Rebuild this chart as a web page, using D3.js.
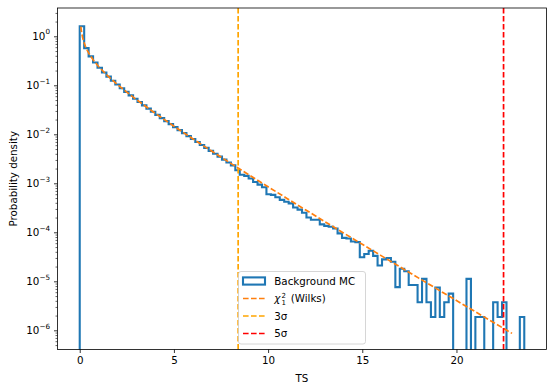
<!DOCTYPE html>
<html>
<head>
<meta charset="utf-8">
<script src="https://cdn.jsdelivr.net/npm/d3@7"></script>
<style>
  body { margin: 0; background: #fff; }
  text { font-family: "DejaVu Sans", sans-serif; fill: #000; }
</style>
</head>
<body>
<svg id="chart" width="555" height="392"></svg>
<script>
// histogram of the background MC test statistic, 100 bins from 0 to tsMax
const tsMax = 23.6;
const nBins = 100;
const bgDensity = [
  1.60, 0.573, 0.389, 0.292, 0.228, 0.183, 0.150, 0.124, 0.1035, 0.0868,
  0.0735, 0.0622, 0.0530, 0.0455, 0.0389, 0.0335, 0.0288, 0.0249, 0.0214, 0.0186,
  0.0161, 0.0140, 0.01215, 0.01055, 0.0092, 0.0080, 0.00695, 0.00605, 0.00528, 0.00460,
  0.00402, 0.00350, 0.00305, 0.00266, 0.00232, 0.00185, 0.00150, 0.00142, 0.00125, 0.00106,
  0.00094, 0.00083, 0.00060, 0.00058, 0.00052, 0.00046, 0.00042, 0.00039, 0.00032, 0.00029,
  0.000250, 0.000200, 0.000180, 0.00018, 0.000145, 0.000135, 0.00013, 0.00012, 0.000095, 0.000077,
  0.000075, 0.000065, 0.000063, 0.000031, 0.000036, 0.000042, 0.000033, 0.000021, 0.000028, 0.00003,
  0.000025, 0.0000076, 0.000018, 0.000016, 0.0000084, 0.0000084, 0.00000374, 0.0000112, 0.00000374, 0.00000187,
  0.00000748, 0.00000187, 0.00000374, 0.00000561, 0, 0, 0, 0.0000112, 0, 0.00000187,
  0.00000187, 0, 0, 0.00000374, 0.00000187, 0.00000374, 0, 0, 0, 0.00000187
];

// chi2 (1 dof) curve
const chiX = [0.06, 0.08, 0.1, 0.15, 0.2, 0.3, 0.4, 0.5, 0.7, 1, 1.5, 2, 2.5, 3, 4, 5, 6, 7, 8, 9, 10,
  11, 12, 13, 14, 15, 16, 17, 18, 19, 20, 21, 22, 22.95];
const chiY = [1.580, 1.355, 1.200, 0.9556, 0.8071, 0.6269, 0.5165, 0.4394, 0.3360, 0.2420, 0.1539,
  0.1038, 0.0723, 0.05139, 0.02700, 0.01465, 0.008109, 0.004553, 0.002584, 0.001477, 0.000850,
  0.0004916, 0.0002855, 0.0001663, 0.00009723, 0.00005697, 0.00003346, 0.00001969, 0.00001161,
  0.000006851, 0.000004050, 0.000002397, 0.000001421, 0.000000866];

const sigmaLabels = ["3σ", "5σ"];
const sigmaTS = [8.41, 22.5];

const xTicks = [0, 5, 10, 15, 20];
const yTickExp = [-6, -5, -4, -3, -2, -1, 0];

const svg = d3.select("#chart");
const axLeft = 57.5, axRight = 546.5, axTop = 8, axBottom = 349.5;
const fontSize = "10.3px";
const dash = "5.6,2.4";

const x = d3.scaleLinear().domain([-1.18, 24.78]).range([axLeft, axRight]);
const y = d3.scaleLog().domain([4.06e-7, 3.78]).range([axBottom, axTop]);

svg.append("defs").append("clipPath").attr("id", "plotclip")
  .append("rect").attr("x", axLeft).attr("y", axTop)
  .attr("width", axRight - axLeft).attr("height", axBottom - axTop);

const plot = svg.append("g").attr("clip-path", "url(#plotclip)");

// step outline of the histogram; empty bins fall below the axes
const edges = d3.range(nBins + 1).map(i => i * tsMax / nBins);
const yv = v => v > 0 ? y(v) : axBottom + 10;
const histPts = [[x(0), axBottom + 10]];
bgDensity.forEach((v, i) => {
  histPts.push([x(edges[i]), yv(v)]);
  histPts.push([x(edges[i + 1]), yv(v)]);
});
histPts.push([x(tsMax), axBottom + 10]);

plot.append("path")
    .attr("d", d3.line()(histPts))
    .attr("fill", "none")
    .attr("stroke", "#1f77b4")
    .attr("stroke-width", 2.1)
    .attr("stroke-linejoin", "miter");

plot.append("path")
    .datum(chiX.map((t, i) => [t, chiY[i]]))
    .attr("d", d3.line().x(d => x(d[0])).y(d => y(d[1])))
    .attr("fill", "none")
    .attr("stroke", "#ff7f0e")
    .attr("stroke-width", 1.7)
    .attr("stroke-dasharray", dash);

const sigmaColors = ["orange", "red"];
plot.selectAll(".sigma")
  .data(sigmaTS)
  .enter().append("line")
    .attr("class", "sigma")
    .attr("x1", d => x(d)).attr("x2", d => x(d))
    .attr("y1", axTop).attr("y2", axBottom)
    .attr("stroke", (d, i) => sigmaColors[i])
    .attr("stroke-width", 1.7)
    .attr("stroke-dasharray", dash);

// x axis
const xAxis = svg.append("g")
    .attr("transform", `translate(0,${axBottom})`)
    .call(d3.axisBottom(x).tickValues(xTicks).tickSize(3.5).tickPadding(3.2).tickFormat(d3.format("d")));
xAxis.select(".domain").remove();
xAxis.selectAll("line").attr("stroke", "#000").attr("stroke-width", 0.8);
xAxis.selectAll("text").attr("font-size", fontSize).attr("font-family", "DejaVu Sans");

// y axis: major ticks with 10^n labels, minor ticks between
const yMajor = yTickExp.map(e => Math.pow(10, e));
const yMinor = [];
d3.range(-7, 1).forEach(e => {
  d3.range(2, 10).forEach(m => {
    const v = m * Math.pow(10, e);
    if (v >= y.domain()[0] && v <= y.domain()[1]) yMinor.push(v);
  });
});

const yAxis = svg.append("g")
    .attr("transform", `translate(${axLeft},0)`)
    .call(d3.axisLeft(y).tickValues(yMajor).tickSize(3.5).tickFormat(""));
yAxis.select(".domain").remove();
yAxis.selectAll("line").attr("stroke", "#000").attr("stroke-width", 0.8);

const yMinorAxis = svg.append("g")
    .attr("transform", `translate(${axLeft},0)`)
    .call(d3.axisLeft(y).tickValues(yMinor).tickSize(2).tickFormat(""));
yMinorAxis.select(".domain").remove();
yMinorAxis.selectAll("line").attr("stroke", "#000").attr("stroke-width", 0.6);

const yLabels = svg.append("g");
yTickExp.forEach(e => {
  const t = yLabels.append("text")
      .attr("x", 50)
      .attr("y", y(Math.pow(10, e)) + 3.8)
      .attr("text-anchor", "end")
      .attr("font-size", fontSize);
  t.append("tspan").text("10");
  t.append("tspan")
      .attr("font-size", "7.2px")
      .attr("dy", -5.6)
      .text(e < 0 ? "\u2212" + Math.abs(e) : String(e));
});

// frame
svg.append("rect")
    .attr("x", axLeft).attr("y", axTop)
    .attr("width", axRight - axLeft).attr("height", axBottom - axTop)
    .attr("fill", "none")
    .attr("stroke", "#000")
    .attr("stroke-width", 0.8);

// axis titles
svg.append("text")
    .attr("x", (axLeft + axRight) / 2)
    .attr("y", 381.5)
    .attr("text-anchor", "middle")
    .attr("font-size", fontSize)
    .text("TS");

svg.append("text")
    .attr("transform", `translate(17,${(axTop + axBottom) / 2}) rotate(-90)`)
    .attr("text-anchor", "middle")
    .attr("font-size", fontSize)
    .text("Probability density");

// legend
const legend = svg.append("g");
legend.append("rect")
    .attr("x", 238.5).attr("y", 271.5)
    .attr("width", 127).attr("height", 72.5)
    .attr("rx", 2.5)
    .attr("fill", "#fff").attr("fill-opacity", 0.8)
    .attr("stroke", "#cccccc").attr("stroke-width", 0.8);

const rowY = [281, 298.5, 316, 333.5];
const hx0 = 243, hx1 = 265, tx = 274.3;

legend.append("rect")
    .attr("x", hx0).attr("y", rowY[0] - 3.6)
    .attr("width", hx1 - hx0).attr("height", 7.2)
    .attr("fill", "none")
    .attr("stroke", "#1f77b4")
    .attr("stroke-width", 2.1);

const lineColors = ["#ff7f0e", "orange", "red"];
lineColors.forEach((c, i) => {
  legend.append("line")
      .attr("x1", hx0).attr("x2", hx1)
      .attr("y1", rowY[i + 1]).attr("y2", rowY[i + 1])
      .attr("stroke", c)
      .attr("stroke-width", 1.7)
      .attr("stroke-dasharray", dash);
});

const baseOff = 3.7;
legend.append("text")
    .attr("x", tx).attr("y", rowY[0] + baseOff)
    .attr("font-size", fontSize)
    .text("Background MC");

// chi^2_1 with stacked super/subscript
legend.append("text")
    .attr("x", tx).attr("y", rowY[1] + baseOff)
    .attr("font-size", fontSize)
    .attr("font-style", "italic")
    .text("χ");
legend.append("text")
    .attr("x", tx + 7.2).attr("y", rowY[1] - 0.8)
    .attr("font-size", "7px")
    .text("2");
legend.append("text")
    .attr("x", tx + 7.2).attr("y", rowY[1] + 6.6)
    .attr("font-size", "7px")
    .text("1");
legend.append("text")
    .attr("x", tx + 16.4).attr("y", rowY[1] + baseOff)
    .attr("font-size", fontSize)
    .text("(Wilks)");

sigmaLabels.forEach((s, i) => {
  legend.append("text")
      .attr("x", tx).attr("y", rowY[i + 2] + baseOff)
      .attr("font-size", fontSize)
      .text(s);
});
</script>
</body>
</html>
